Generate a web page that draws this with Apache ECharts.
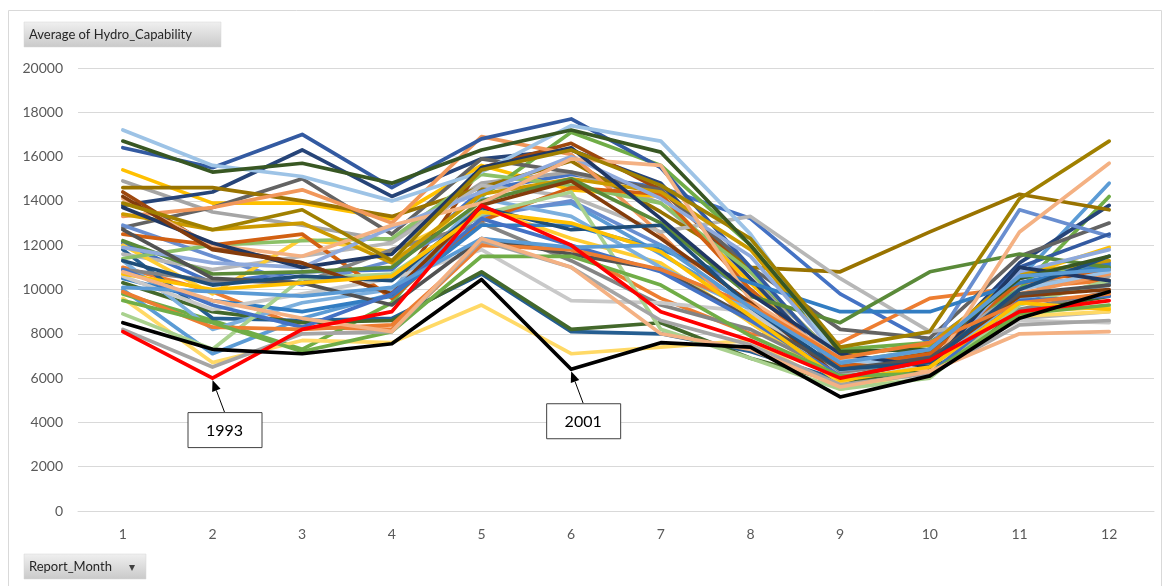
<!DOCTYPE html>
<html><head><meta charset="utf-8">
<script src="https://cdn.jsdelivr.net/npm/echarts@6/dist/echarts.min.js"></script>
<style>html,body{margin:0;padding:0;background:#fff}#c{width:1166px;height:586px}</style>
</head><body><div id="c"></div>
<script>
var months = ['1','2','3','4','5','6','7','8','9','10','11','12'];
var yTicks = {min: 0, max: 20000, interval: 2000};
var palette = ['#4472C4','#ED7D31','#A5A5A5','#FFC000','#5B9BD5','#70AD47','#264478','#9E480E','#636363','#997300','#255E91','#43682B','#698ED0','#F1975A','#B7B7B7','#FFCD33','#7CAFDD','#8CC168','#335AA1','#D26012','#848484','#CC9A00','#327DC2','#5A8A39','#8FAADC','#F4B183','#C9C9C9','#FFD966','#9DC3E6','#A9D18E','#203864','#843C0C','#525252','#A08000','#1F4E79','#385723','#4472C4','#ED7D31','#FFC000','#5B9BD5','#70AD47','#A5A5A5','#F4B183','#FF0000','#000000'];
var years = [1970,1971,1972,1973,1974,1975,1976,1977,1978,1979,1980,1981,1982,1983,1984,1985,1986,1987,1988,1989,1990,1991,1992,1994,1995,1996,1997,1998,1999,2000,2002,2003,2004,2005,2006,2007,2008,2009,2010,2011,2012,2013,2014,1993,2001];
var v1970 = [12100,10300,10800,10900,14500,15200,14600,13200,9800,7600,10500,11200];
var v1971 = [11000,9900,8300,8200,12000,11800,9600,8000,7600,9600,10100,10400];
var v1972 = [14900,13500,12900,12200,14800,15300,13900,10500,6900,6800,10200,10600];
var v1973 = [15400,13900,13900,13200,15600,14500,14200,10300,6400,7300,10600,11900];
var v1974 = [10000,7100,8700,9800,13500,13900,11600,9300,6100,7200,10500,14800];
var v1975 = [9800,8600,7300,9400,14200,17100,15600,12000,7300,7600,10000,14200];
var v1976 = [13800,14400,16300,14200,15900,16300,14800,10500,6300,7000,11200,13800];
var v1977 = [14400,11900,11200,9800,15500,16600,14500,10800,6700,7200,10800,10400];
var v1978 = [12800,13700,15000,12500,15900,15300,14500,11000,8200,7800,11500,13000];
var v1979 = [14600,14600,14000,13300,14600,15800,13500,11000,10800,12600,14300,13600];
var v1980 = [11800,8700,8600,8700,10700,8100,8000,7200,5900,6500,9500,10300];
var v1981 = [10300,9000,8500,8600,10800,8200,8500,6900,5800,6400,9000,9700];
var v1982 = [12900,11500,10200,11300,13300,14000,12000,10000,6600,7300,13600,12400];
var v1983 = [13300,13700,14500,13000,16900,16100,12500,8500,6000,6900,9800,10700];
var v1984 = [11600,10900,11500,12100,14700,14200,12600,13300,10500,8100,8700,9000];
var v1985 = [12000,9800,12300,11700,13700,12300,11200,8500,5800,7000,9000,9200];
var v1986 = [11300,8200,9400,10000,14100,13300,11000,9100,6300,6700,9600,10200];
var v1987 = [11400,12000,12200,12300,15200,14700,13900,10800,6700,7300,10600,11000];
var v1988 = [16400,15500,17000,14600,16800,17700,15500,11000,6500,7000,11000,12500];
var v1989 = [12500,12000,12500,9600,13100,14600,14300,10000,6500,7100,10300,10900];
var v1990 = [10900,10400,10300,11800,13000,11300,9300,8200,6200,6600,9100,9900];
var v1991 = [13400,12700,13000,11200,14300,15000,14400,11800,7000,7500,10700,11300];
var v1992 = [10500,9500,9000,9700,12900,12900,11800,10300,9000,9000,10300,11100];
var v1994 = [12200,10700,10800,11000,14000,15000,13000,9700,8500,10800,11600,11000];
var v1995 = [11900,11200,11000,12800,14400,16000,14100,11500,6900,6500,10800,11800];
var v1996 = [14100,12000,11500,12900,13900,15900,15600,9500,6900,6300,12600,15700];
var v1997 = [10600,9100,9800,10500,11800,9500,9400,9000,6100,6600,8600,8500];
var v1998 = [9600,6700,7700,7600,9300,7100,7400,7700,5500,6300,8800,9000];
var v1999 = [17200,15600,15100,14000,15300,17400,16700,12500,6800,6600,10000,10800];
var v2000 = [8900,7300,10500,10700,13400,14400,8200,6900,5500,6000,9300,10400];
var v2002 = [13700,12100,11000,11600,15500,16400,13200,9800,7100,6500,11000,10400];
var v2003 = [14200,11800,11200,9800,13800,14900,12300,9400,6000,6800,9700,10000];
var v2004 = [12700,10500,10300,9300,12300,11600,10900,8700,6400,6900,9800,10200];
var v2005 = [13900,12700,13600,11300,15400,16300,14700,12300,7400,8100,14100,16700];
var v2006 = [11300,10200,10600,10400,13700,12700,12900,9200,6400,6700,10000,11500];
var v2007 = [16700,15300,15700,14800,16300,17200,16200,12000,7200,7300,10500,11500];
var v2008 = [10900,9300,8300,9800,13200,12000,10800,8600,6100,6200,9500,9700];
var v2009 = [9900,8300,8200,8400,12000,11800,10900,9300,6900,7600,9400,9800];
var v2010 = [10700,10000,10300,10600,13500,13000,11700,8800,5900,6500,9400,9100];
var v2011 = [10100,9900,9700,10100,12300,11900,12000,9200,6700,7300,10600,10900];
var v2012 = [9500,8500,7200,8100,11500,11500,10200,7900,6100,6200,8900,9300];
var v2013 = [8200,6500,8000,8100,12200,11000,8600,7500,5700,6200,8400,8600];
var v2014 = [10800,9500,8700,8100,12300,11000,8000,7300,5600,6300,8000,8100];
var v1993 = [8100,6000,8200,9000,13800,12000,9000,7700,6000,6800,9000,9500];
var v2001 = [8500,7300,7100,7550,10450,6400,7600,7400,5150,6100,8700,9900];
var valueLists = [v1970,v1971,v1972,v1973,v1974,v1975,v1976,v1977,v1978,v1979,v1980,v1981,v1982,v1983,v1984,v1985,v1986,v1987,v1988,v1989,v1990,v1991,v1992,v1994,v1995,v1996,v1997,v1998,v1999,v2000,v2002,v2003,v2004,v2005,v2006,v2007,v2008,v2009,v2010,v2011,v2012,v2013,v2014,v1993,v2001];
var notes = [{label:'1993', year:1993, month:'2'}, {label:'2001', year:2001, month:'6'}];

var FONT = 'Lato';
var chart = echarts.init(document.getElementById('c'), null, {renderer:'canvas'});
var series = valueLists.map(function(vals, i){
  return {name: String(years[i]), type:'line', data: vals, symbol:'none', smooth:false,
    lineStyle:{width:3.7, color: palette[i], join:'round', cap:'round'}, itemStyle:{color: palette[i]},
    z: 2, animation:false, emphasis:{disabled:true}};
});
chart.setOption({
  animation:false,
  grid:{left:78, right:12, top:68, bottom:75, containLabel:false},
  xAxis:{type:'category', data: months, boundaryGap:true,
    axisLine:{show:true, lineStyle:{color:'#d9d9d9', width:1}}, axisTick:{show:false},
    axisLabel:{color:'#595959', fontFamily:FONT, fontSize:14, margin:16}},
  yAxis:{type:'value', min:yTicks.min, max:yTicks.max, interval:yTicks.interval,
    axisLine:{show:false}, axisTick:{show:false},
    splitLine:{lineStyle:{color:'#d9d9d9', width:1}},
    axisLabel:{color:'#595959', fontFamily:FONT, fontSize:14, margin:15, formatter:function(v){return String(v);}}},
  series: series
});

function buildGraphics(){
  var g = [];
  g.push({type:'rect', shape:{x:8.5, y:10.5, width:1153, height:600}, style:{fill:'none', stroke:'#d9d9d9', lineWidth:1}, silent:true, z:0});
  function button(x, y, w, h, text, arrow){
    g.push({type:'rect', shape:{x:x, y:y, width:w, height:h},
      style:{fill:new echarts.graphic.LinearGradient(0,0,0,1,[{offset:0,color:'#f0f0f0'},{offset:1,color:'#c9c9c9'}]), stroke:'#d4d4d4', lineWidth:0.5}, z:10});
    g.push({type:'text', x:x+5, y:y+h/2, style:{text:text, fill:'#262626', font:'13px '+FONT, textVerticalAlign:'middle', textAlign:'left'}, z:11});
    if (arrow) g.push({type:'text', x:x+w-14, y:y+h/2+1, style:{text:'▾', fill:'#404040', font:'12px '+FONT, textVerticalAlign:'middle', textAlign:'center'}, z:11});
  }
  button(24, 22, 197, 25, 'Average of Hydro_Capability', false);
  button(24, 554, 122, 25, 'Report_Month', true);
  notes.forEach(function(n){
    var si = years.indexOf(n.year);
    var mi = months.indexOf(n.month);
    var tip = chart.convertToPixel({seriesIndex: si}, [mi, valueLists[si][mi]]);
    var tx = tip[0], ty = tip[1] + 2;
    var bx = tx - 25, by = ty + 32, bw = 74, bh = 35;
    var sx = tx + 12, sy = by;
    var dx = tx - sx, dy = ty - sy, L = Math.sqrt(dx*dx+dy*dy), ux = dx/L, uy = dy/L;
    var hl = 11, hw = 4.5;
    var baseX = tx - ux*hl, baseY = ty - uy*hl;
    g.push({type:'line', shape:{x1:sx, y1:sy, x2:baseX, y2:baseY}, style:{stroke:'#000', lineWidth:1}, z:20});
    g.push({type:'polygon', shape:{points:[[tx,ty],[baseX - uy*hw, baseY + ux*hw],[baseX + uy*hw, baseY - ux*hw]]}, style:{fill:'#000'}, z:20});
    g.push({type:'rect', shape:{x:bx+0.5, y:by+0.5, width:bw, height:bh}, style:{fill:'#fff', stroke:'#404040', lineWidth:1}, z:20});
    g.push({type:'text', x:bx+bw/2, y:by+bh/2+1, style:{text:n.label, fill:'#000', font:'16px '+FONT, textAlign:'center', textVerticalAlign:'middle'}, z:21});
  });
  return g;
}
chart.setOption({graphic: buildGraphics()});
</script></body></html>
